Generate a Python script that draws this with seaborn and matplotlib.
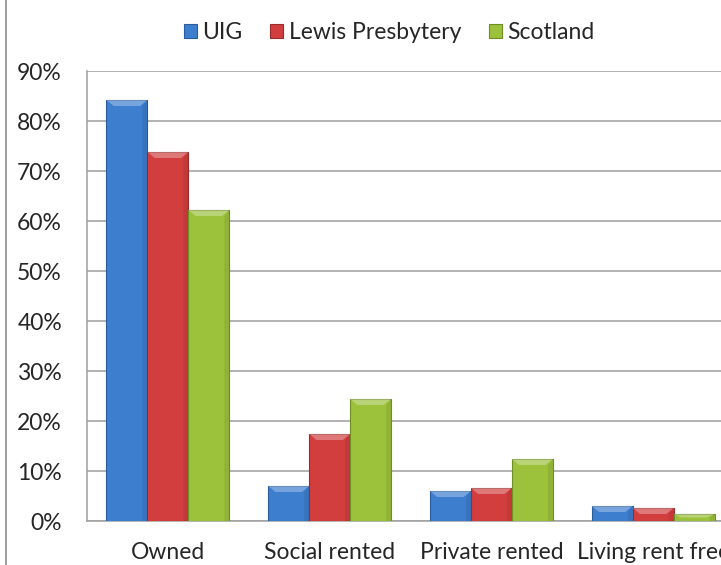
import numpy as np
import pandas as pd
import matplotlib.pyplot as plt
import seaborn as sns
from matplotlib.patches import Patch
from matplotlib.lines import Line2D

categories = ["Owned", "Social rented", "Private rented", "Living rent free"]
series = ["UIG", "Lewis Presbytery", "Scotland"]
uig = [0.842, 0.070, 0.060, 0.030]
lewis = [0.738, 0.174, 0.066, 0.026]
scotland = [0.622, 0.244, 0.124, 0.014]
yticks = [0, 0.1, 0.2, 0.3, 0.4, 0.5, 0.6, 0.7, 0.8, 0.9]

colors = ["#3D7ECF", "#D23E3E", "#9CC23C"]
edges = ["#2B5C9C", "#9C2B2B", "#6F8F26"]

df = pd.DataFrame({
    "category": categories * 3,
    "series": [s for s in series for _ in categories],
    "value": uig + lewis + scotland,
})

sns.set_style("white")
plt.rcParams["font.family"] = ["Lato", "DejaVu Sans"]
_fontsize = 16.5

fig = plt.figure(figsize=(7.21, 5.65), dpi=100)
ax = fig.add_axes([87 / 721, 1 - 521 / 565, 647 / 721, 450 / 565])

sns.barplot(data=df, x="category", y="value", hue="series", order=categories,
            hue_order=series, palette=colors, width=0.76, saturation=1,
            legend=False, ax=ax, zorder=3)

# darker edges per series, plus a light bevel on top
for i, cont in enumerate(ax.containers):
    for p in cont:
        p.set_edgecolor(edges[i])
        p.set_linewidth(0.8)
        x0, w, h = p.get_x(), p.get_width(), p.get_height()
        b = min(0.012, h * 0.5)
        ax.fill([x0, x0 + w, x0 + w * 0.82, x0 + w * 0.18],
                [h, h, h - b, h - b], color="white", alpha=0.3,
                zorder=4, lw=0)
        ax.fill([x0 + w * 0.88, x0 + w, x0 + w, x0 + w * 0.88],
                [0, 0, h, h - b], color="black", alpha=0.08, zorder=4, lw=0)

ax.set_xlim(-0.5, 3.5)
ax.set_ylim(0, 0.9)
ax.set_yticks(yticks)
ax.set_yticklabels([f"{int(round(t * 100))}%" for t in yticks], fontsize=_fontsize)
ax.yaxis.grid(True, color="#9E9E9E", lw=1.1, zorder=0)
ax.set_axisbelow(True)

ax.set_xticks(np.arange(-0.5, 4, 1))
ax.set_xticklabels([])
ax.set_xticks(np.arange(4), minor=True)
ax.set_xticklabels(categories, minor=True, fontsize=_fontsize)
ax.tick_params(axis="x", which="minor", length=0, pad=15)
ax.tick_params(axis="x", which="major", length=7, color="#9E9E9E", width=1.1)
ax.tick_params(axis="y", length=7, color="#9E9E9E", width=1.1, pad=11)
ax.set_xlabel("")
ax.set_ylabel("")

for s in ["top", "right"]:
    ax.spines[s].set_visible(False)
for s in ["left", "bottom"]:
    ax.spines[s].set_color("#9E9E9E")
    ax.spines[s].set_linewidth(1.1)

handles = [Patch(facecolor=c, edgecolor=e, lw=0.8) for c, e in zip(colors, edges)]
fig.legend(handles, series, loc="center", bbox_to_anchor=(0.54, 0.943), ncol=3,
           frameon=False, fontsize=_fontsize, handlelength=0.57, handleheight=0.57,
           handletextpad=0.25, columnspacing=1.2)

fig.add_artist(Line2D([6 / 721, 6 / 721], [0, 1], transform=fig.transFigure,
                      color="#8C8C8C", lw=1.2))

plt.savefig("out.png", dpi=100)
